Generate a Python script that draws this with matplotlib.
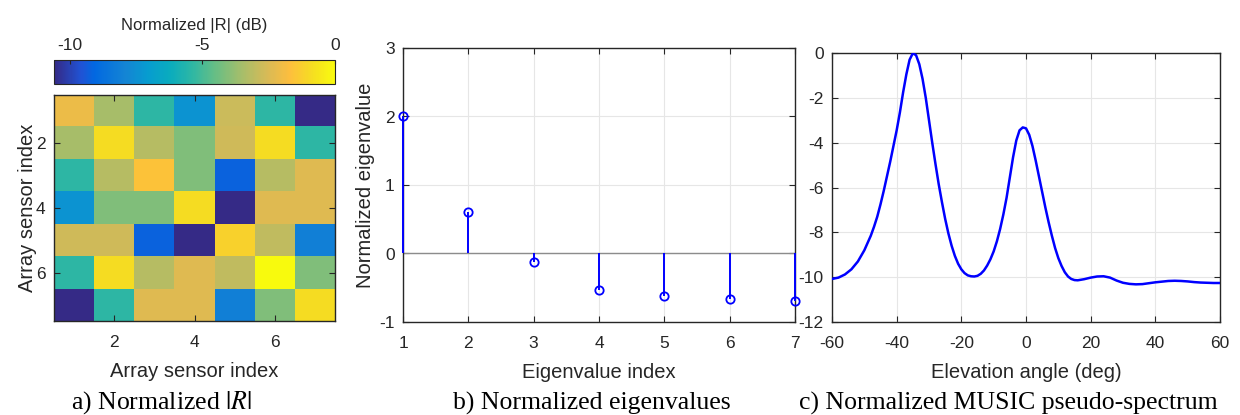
import numpy as np
import matplotlib
matplotlib.use("Agg")
import matplotlib.pyplot as plt
from matplotlib.colors import LinearSegmentedColormap

plt.rcParams["font.family"] = ["Liberation Sans", "DejaVu Sans"]
plt.rcParams["mathtext.fontset"] = "stix"
plt.rcParams["axes.unicode_minus"] = False

# ---- data ---------------------------------------------------------------
sensor_index = [1, 2, 3, 4, 5, 6, 7]

# normalized |R| in dB, row = sensor i, column = sensor j
R_db = [
    [-2.1, -3.5, -5.4, -7.4, -2.8, -5.4, -10.6],
    [-3.5, -0.9, -3.2, -4.1, -2.7, -0.9, -5.4],
    [-5.4, -3.2, -1.6, -4.1, -9.2, -3.2, -2.4],
    [-7.4, -4.1, -4.1, -0.9, -10.6, -2.4, -2.4],
    [-2.7, -2.7, -9.2, -10.6, -1.2, -3.0, -8.1],
    [-5.4, -0.9, -3.2, -2.4, -3.0, 0.0, -4.1],
    [-10.6, -5.4, -2.4, -2.4, -8.1, -4.1, -0.9],
]

eig_index = [1, 2, 3, 4, 5, 6, 7]
eig_values = [2.01, 0.60, -0.12, -0.53, -0.62, -0.66, -0.69]

angle_deg = [
    -60, -58, -56, -54, -52, -50, -48, -47, -46, -45, -44, -43, -42, -41,
    -40, -39, -38, -37, -36, -35, -34, -33, -32, -31, -30, -29, -28, -27,
    -26, -25, -24, -23, -22, -21, -20, -19, -18, -17, -16, -15, -14, -13,
    -12, -11, -10, -9, -8, -7, -6, -5, -4, -3, -2, -1, 0, 1, 2, 3, 4, 5,
    6, 7, 8, 9, 10, 11, 12, 13, 14, 15, 16, 18, 20, 22, 24, 26, 28, 30,
    32, 34, 36, 38, 40, 42, 44, 46, 48, 50, 52, 54, 56, 58, 60,
]
music_db = [
    -10.08, -10.02, -9.88, -9.65, -9.30, -8.80, -8.15, -7.75, -7.30, -6.75,
    -6.15, -5.50, -4.85, -4.15, -3.45, -2.65, -1.75, -0.95, -0.30, -0.01,
    -0.10, -0.50, -1.15, -2.00, -3.00, -4.00, -4.95, -5.85, -6.65, -7.40,
    -8.05, -8.60, -9.05, -9.40, -9.65, -9.82, -9.92, -9.96, -9.97, -9.94,
    -9.85, -9.70, -9.48, -9.20, -8.85, -8.40, -7.85, -7.20, -6.45, -5.55,
    -4.65, -3.90, -3.45, -3.32, -3.36, -3.65, -4.15, -4.80, -5.50, -6.20,
    -6.90, -7.55, -8.15, -8.70, -9.15, -9.50, -9.78, -9.97, -10.08, -10.13,
    -10.14, -10.09, -10.02, -9.97, -9.96, -10.02, -10.15, -10.25, -10.30,
    -10.32, -10.31, -10.27, -10.23, -10.20, -10.17, -10.16, -10.17, -10.19,
    -10.22, -10.24, -10.25, -10.26, -10.26,
]

# ---- parula-like colormap ------------------------------------------------
parula_pts = [
    (0.000, (0.2081, 0.1663, 0.5292)),
    (0.095, (0.1253, 0.3242, 0.8303)),
    (0.143, (0.0060, 0.4086, 0.8828)),
    (0.254, (0.0793, 0.5200, 0.8312)),
    (0.333, (0.0265, 0.6137, 0.8135)),
    (0.413, (0.0384, 0.6743, 0.7436)),
    (0.492, (0.1801, 0.7177, 0.6424)),
    (0.571, (0.3953, 0.7459, 0.5244)),
    (0.667, (0.6473, 0.7456, 0.4188)),
    (0.762, (0.8507, 0.7299, 0.3360)),
    (0.841, (0.9938, 0.7455, 0.2403)),
    (0.921, (0.9626, 0.8705, 0.1309)),
    (1.000, (0.9763, 0.9831, 0.0538)),
]
parula = LinearSegmentedColormap.from_list("parula", parula_pts, N=256)

# ---- figure ----------------------------------------------------------------
W, H = 1240, 415
fig = plt.figure(figsize=(W / 100, H / 100), dpi=100)


def px_axes(x0, y0, x1, y1):
    return fig.add_axes([x0 / W, 1 - y1 / H, (x1 - x0) / W, (y1 - y0) / H])


axis_gray = "#262626"
tick_fs = 12.5
label_fs = 14.5


def style(ax):
    for s in ax.spines.values():
        s.set_color(axis_gray)
        s.set_linewidth(1.0)
    ax.tick_params(direction="in", colors=axis_gray, labelsize=tick_fs,
                   top=True, right=True, length=4, width=0.8)
    ax.tick_params(axis="x", pad=10)
    ax.tick_params(axis="y", pad=6)


# (a) normalized |R|
ax_a = px_axes(54, 95, 335, 321)
vmin = float(np.min(R_db))
im = ax_a.imshow(R_db, cmap=parula, vmin=vmin, vmax=0,
                 extent=(0.5, 7.5, 7.5, 0.5), aspect="auto",
                 interpolation="nearest")
ax_a.set_xticks([2, 4, 6])
ax_a.set_yticks([2, 4, 6])
style(ax_a)
ax_a.set_xlabel("Array sensor index", fontsize=label_fs, color=axis_gray,
                labelpad=9)
ax_a.set_ylabel("Array sensor index", fontsize=label_fs, color=axis_gray,
                labelpad=-1)

cax = px_axes(54, 60, 335, 84)
cb = fig.colorbar(im, cax=cax, orientation="horizontal")
cb.set_ticks([-10, -5, 0])
cax.xaxis.set_ticks_position("top")
cax.xaxis.set_label_position("top")
cax.tick_params(direction="in", colors=axis_gray, labelsize=tick_fs,
                length=3, width=0.8, pad=5)
cb.outline.set_edgecolor(axis_gray)
cb.outline.set_linewidth(0.8)
cb.set_label("Normalized |R| (dB)", fontsize=12, color=axis_gray, labelpad=6)

# (b) normalized eigenvalues
ax_b = px_axes(403, 48, 795, 322)
ax_b.axhline(0, color="#8c8c8c", lw=1.0, zorder=1)
ax_b.vlines(eig_index, 0, eig_values, color="#0000ff", lw=1.4, zorder=3,
            clip_on=False)
ax_b.plot(eig_index, eig_values, "o", mfc="none", mec="#0000ff", mew=1.3,
          ms=6, zorder=4, clip_on=False)
ax_b.set_xlim(1, 7)
ax_b.set_ylim(-1, 3)
ax_b.set_xticks(eig_index)
ax_b.set_yticks([-1, 0, 1, 2, 3])
ax_b.grid(True, color="#e6e6e6", lw=0.8)
ax_b.set_axisbelow(True)
style(ax_b)
ax_b.set_xlabel("Eigenvalue index", fontsize=label_fs, color=axis_gray,
                labelpad=9)
ax_b.set_ylabel("Normalized eigenvalue", fontsize=label_fs, color=axis_gray,
                labelpad=3)

# (c) normalized MUSIC pseudo-spectrum
ax_c = px_axes(832, 53, 1220, 322)
ax_c.plot(angle_deg, music_db, color="#0000ff", lw=1.8, zorder=3)
ax_c.set_xlim(-60, 60)
ax_c.set_ylim(-12, 0)
ax_c.set_xticks(np.arange(-60, 61, 20))
ax_c.set_yticks(np.arange(-12, 1, 2))
ax_c.grid(True, color="#e6e6e6", lw=0.8)
ax_c.set_axisbelow(True)
style(ax_c)
ax_c.set_xlabel("Elevation angle (deg)", fontsize=label_fs, color=axis_gray,
                labelpad=9)

# captions
cap = dict(fontsize=18.5, family=["Liberation Serif", "DejaVu Serif"],
           ha="center", va="center", color="black")
fig.text(161 / W, 1 - 403 / H, r"a) Normalized $|R|$", **cap)
fig.text(592 / W, 1 - 403 / H, "b) Normalized eigenvalues", **cap)
fig.text(1008 / W, 1 - 403 / H, "c) Normalized MUSIC pseudo-spectrum", **cap)

fig.savefig("out.png", dpi=100)
